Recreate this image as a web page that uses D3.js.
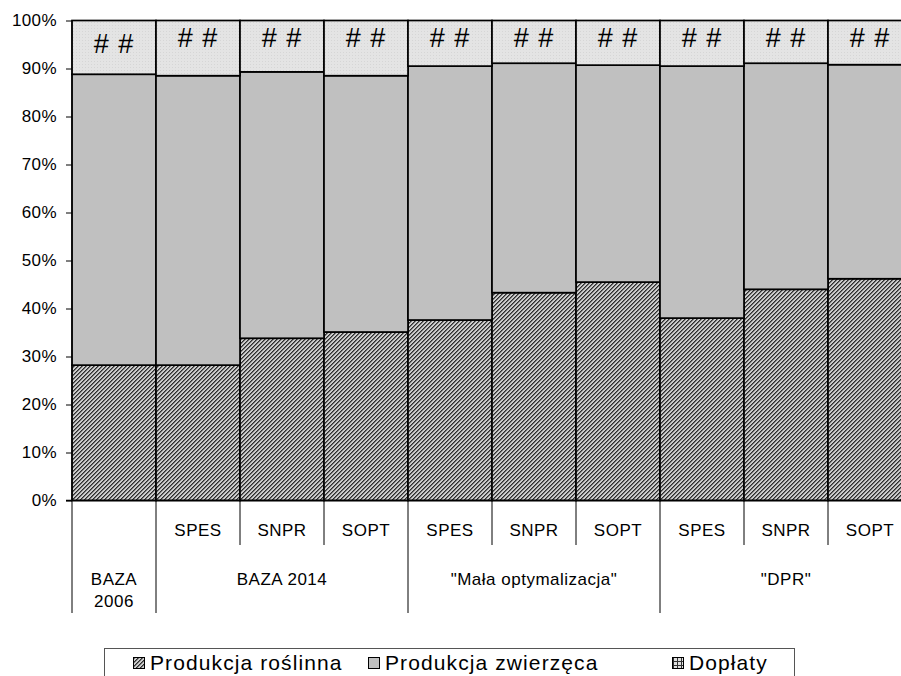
<!DOCTYPE html>
<html>
<head>
<meta charset="utf-8">
<script src="https://cdn.jsdelivr.net/npm/d3@7/dist/d3.min.js"></script>
<style>
  html, body { margin: 0; padding: 0; background: #fff; }
  svg { display: block; font-family: "Liberation Sans", Arial, sans-serif; }
</style>
</head>
<body>
<svg id="chart" width="901" height="676"></svg>
<script>
(function () {
// ---- data ----
const barIds = ["b1","b2","b3","b4","b5","b6","b7","b8","b9","b10"];
const subLabels = ["", "SPES", "SNPR", "SOPT", "SPES", "SNPR", "SOPT", "SPES", "SNPR", "SOPT"];
const groupLabels = [["BAZA", "2006"], ["BAZA 2014"], ["\"Mała optymalizacja\""], ["\"DPR\""]];
const groupSpans = [1, 3, 3, 3];
const seriesNames = ["Produkcja roślinna", "Produkcja zwierzęca", "Dopłaty"];
const produkcjaRoslinna = [28.2, 28.2, 33.8, 35.1, 37.6, 43.3, 45.5, 38.0, 44.0, 46.2];
const produkcjaZwierzeca = [60.6, 60.3, 55.5, 53.4, 52.9, 47.8, 45.2, 52.5, 47.1, 44.6];
const doplaty = [11.2, 11.5, 10.7, 11.5, 9.5, 8.9, 9.3, 9.5, 8.9, 9.2];
const dataLabel = "# #";
const yTicks = [0, 10, 20, 30, 40, 50, 60, 70, 80, 90, 100];

// ---- layout ----
const svg = d3.select("#chart");
const pLeft = 72, pRight = 912, pTop = 20.5, pBottom = 500.5;

const x = d3.scaleBand().domain(barIds).range([pLeft, pRight]).padding(0);
const y = d3.scaleLinear().domain([0, 100]).range([pBottom, pTop]);

const rows = barIds.map((id, i) => ({
  id,
  [seriesNames[0]]: produkcjaRoslinna[i],
  [seriesNames[1]]: produkcjaZwierzeca[i],
  [seriesNames[2]]: doplaty[i]
}));
const stacked = d3.stack().keys(seriesNames)(rows);

// patterns
const defs = svg.append("defs");
const p1 = defs.append("pattern").attr("id", "patR").attr("patternUnits", "userSpaceOnUse")
  .attr("width", 4).attr("height", 4);
p1.append("rect").attr("width", 4).attr("height", 4).attr("fill", "#cccccc");
[[0,3],[1,2],[2,1],[3,0]].forEach(([px, py]) => {
  p1.append("rect").attr("x", px).attr("y", py).attr("width", 1).attr("height", 1).attr("fill", "#2e2e2e");
  p1.append("rect").attr("x", (px + 1) % 4).attr("y", py).attr("width", 1).attr("height", 1).attr("fill", "#707070");
});
const p3 = defs.append("pattern").attr("id", "patD").attr("patternUnits", "userSpaceOnUse")
  .attr("width", 3).attr("height", 3);
p3.append("rect").attr("width", 3).attr("height", 3).attr("fill", "#e4e4e4");
p3.append("rect").attr("x", 1).attr("y", 1).attr("width", 1).attr("height", 1).attr("fill", "#d6d6d6");
const p4 = defs.append("pattern").attr("id", "patL").attr("patternUnits", "userSpaceOnUse")
  .attr("width", 4).attr("height", 4);
p4.append("rect").attr("width", 4).attr("height", 4).attr("fill", "#e0e0e0");
p4.append("path").attr("d", "M0,1.5 H4 M1.5,0 V4").attr("stroke", "#333").attr("stroke-width", 1);

const fills = ["url(#patR)", "#c0c0c0", "url(#patD)"];
const legendFills = ["url(#patR)", "#c0c0c0", "url(#patL)"];

// bars
const layers = svg.append("g").selectAll("g").data(stacked).join("g")
  .attr("fill", (d, i) => fills[i]);
layers.selectAll("rect").data(d => d).join("rect")
  .attr("x", d => x(d.data.id))
  .attr("width", x.bandwidth())
  .attr("y", d => y(d[1]))
  .attr("height", d => y(d[0]) - y(d[1]))
  .attr("stroke", "#000").attr("stroke-width", 1.7);

// data labels "##" in top segment
const topLayer = stacked[2];
svg.append("g").selectAll("text").data(topLayer).join("text")
  .attr("x", d => x(d.data.id) + x.bandwidth() / 2)
  .attr("y", (d, i) => i === 0 ? (y(d[0]) + y(d[1])) / 2 - 4 : y(d[1]) + 17)
  .attr("dy", "0.35em")
  .attr("text-anchor", "middle")
  .attr("font-size", 27)
  .attr("letter-spacing", 1)
  .attr("fill", "#000")
  .text(dataLabel);

// y axis
const yAxis = d3.axisLeft(y).tickValues(yTicks).tickFormat(d => d + "%").tickSize(6).tickPadding(9);
const ya = svg.append("g").attr("transform", `translate(${pLeft},0)`).call(yAxis);
ya.select(".domain").remove();
ya.selectAll(".tick line").attr("stroke", "#000").attr("stroke-width", 1);
ya.selectAll(".tick text").attr("font-size", 17).attr("letter-spacing", 0.4).attr("fill", "#000")
  .attr("font-family", "Liberation Sans, Arial, sans-serif");

// axis lines
svg.append("line").attr("x1", pLeft).attr("x2", pLeft).attr("y1", pTop).attr("y2", 613)
  .attr("stroke", "#000").attr("stroke-width", 1);
svg.append("line").attr("x1", pLeft - 6).attr("x2", pRight).attr("y1", pBottom).attr("y2", pBottom)
  .attr("stroke", "#000").attr("stroke-width", 1.7);

// category dividers
let acc = 0;
const groupStarts = groupSpans.map(s => { const st = acc; acc += s; return st; });
barIds.forEach((id, i) => {
  if (i === 0) return;
  const isGroupStart = groupStarts.includes(i);
  svg.append("line")
    .attr("x1", x(id)).attr("x2", x(id))
    .attr("y1", pBottom).attr("y2", isGroupStart ? 613 : 545)
    .attr("stroke", "#000").attr("stroke-width", 1);
});

// sub labels
svg.append("g").selectAll("text").data(barIds).join("text")
  .attr("x", id => x(id) + x.bandwidth() / 2)
  .attr("y", 536)
  .attr("text-anchor", "middle")
  .attr("font-size", 17)
  .attr("letter-spacing", 0.5)
  .attr("fill", "#000")
  .text((id, i) => subLabels[i]);

// group labels
groupLabels.forEach((lines, g) => {
  const i0 = groupStarts[g], i1 = i0 + groupSpans[g] - 1;
  const cx = (x(barIds[i0]) + x(barIds[i1]) + x.bandwidth()) / 2;
  const t = svg.append("text").attr("x", cx).attr("y", 585)
    .attr("text-anchor", "middle").attr("font-size", 17).attr("letter-spacing", 0.5).attr("fill", "#000");
  lines.forEach((ln, k) => {
    t.append("tspan").attr("x", cx).attr("dy", k === 0 ? 0 : 22).text(ln);
  });
});

// legend
const legend = svg.append("g");
legend.append("rect").attr("x", 104.5).attr("y", 648.5).attr("width", 690).attr("height", 40)
  .attr("fill", "#fff").attr("stroke", "#555").attr("stroke-width", 1);
const legendX = [133, 368, 672];
seriesNames.forEach((name, i) => {
  legend.append("rect").attr("x", legendX[i] + 0.5).attr("y", 657.5).attr("width", 11).attr("height", 11)
    .attr("fill", legendFills[i]).attr("stroke", "#000").attr("stroke-width", 1);
  legend.append("text").attr("x", legendX[i] + 17).attr("y", 670)
    .attr("font-size", 21).attr("letter-spacing", 1.1).attr("fill", "#000").text(name);
});
})();
</script>
</body>
</html>
